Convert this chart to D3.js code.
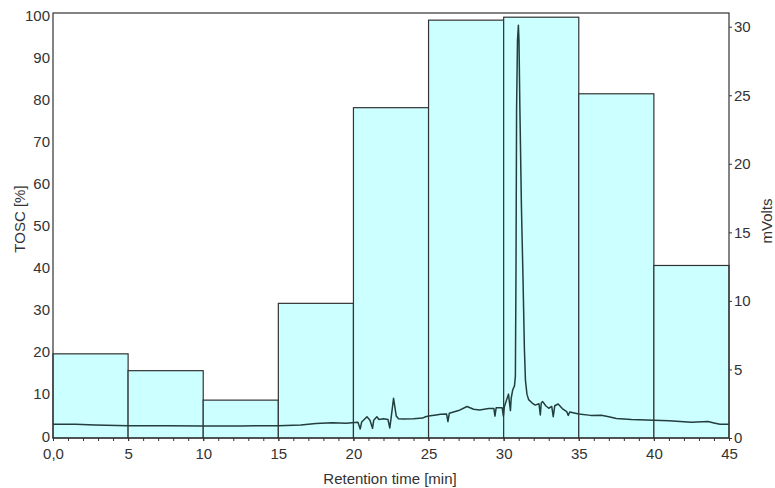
<!DOCTYPE html>
<html>
<head>
<meta charset="utf-8">
<script src="https://cdn.jsdelivr.net/npm/d3@7"></script>
<style>
  body { margin: 0; background: #fff; }
  svg { display: block; font-family: Arial, "Liberation Sans", sans-serif; }
  .axis text { fill: #333; font-size: 15px; }
  .axis path, .axis line { stroke: #333; }
</style>
</head>
<body>
<svg id="chart" width="775" height="488"></svg>
<script>
// TOSC fractions (5 min bins)
const binEdges = [0, 5, 10, 15, 20, 25, 30, 35, 40, 45];
const toscValues = [20, 16, 9, 32, 78.5, 99.3, 100, 81.8, 41];

// chromatogram trace
const timeMin = [0, 1.5, 2.8, 5, 7.5, 10, 12.5, 15, 16.5, 17.5, 18.6, 19.5,
  20.3, 20.45, 20.55, 20.9, 21.1, 21.27, 21.35, 21.56, 21.7, 22.0, 22.3, 22.42, 22.5,
  22.67, 22.85, 23.0, 23.3, 24.0, 24.6, 24.8, 25.0, 25.5, 25.8, 26.2, 26.29, 26.38,
  27.0, 27.56, 28.0, 28.4, 29.0, 29.35, 29.42, 29.5, 29.9, 29.98, 30.05, 30.32, 30.45,
  30.5, 30.6, 30.72, 30.78, 30.82, 30.86, 30.92, 30.98, 31.02, 31.08, 31.18, 31.29,
  31.38, 31.45, 31.55, 31.66, 31.9, 32.1, 32.35, 32.44, 32.5, 32.6, 32.8, 33.0, 33.2,
  33.3, 33.4, 33.63, 33.9, 34.2, 34.3, 34.4, 35.0, 35.8, 36.5, 37.0, 37.5, 38.5, 40.0,
  41.0, 42.5, 43.2, 43.6, 44.0, 44.4, 45.0];
const mVolts = [1.0, 1.0, 0.95, 0.9, 0.9, 0.88, 0.88, 0.9, 0.95, 1.05, 1.12, 1.08,
  1.15, 0.66, 1.17, 1.55, 1.3, 0.71, 1.3, 1.55, 1.35, 1.4, 1.35, 0.73, 1.4,
  2.9, 1.6, 1.4, 1.38, 1.4, 1.45, 1.55, 1.6, 1.68, 1.73, 1.75, 1.2, 1.8,
  2.0, 2.3, 2.1, 2.05, 2.15, 2.15, 1.6, 2.2, 2.2, 1.6, 2.3, 3.2, 2.0,
  2.9, 3.5, 3.8, 4.5, 12, 24, 29, 30.1, 29, 24, 17, 11.5,
  6.5, 4.2, 3.2, 2.8, 2.55, 2.4, 2.5, 1.68, 2.55, 2.65, 2.35, 2.17, 2.3,
  1.55, 2.35, 2.48, 2.15, 1.92, 1.65, 1.9, 1.75, 1.65, 1.66, 1.55, 1.42, 1.35, 1.3,
  1.25, 1.15, 1.18, 1.2, 1.1, 1.0, 1.0];

const xTicks = [0, 5, 10, 15, 20, 25, 30, 35, 40, 45];
const leftTicks = [0, 10, 20, 30, 40, 50, 60, 70, 80, 90, 100];
const rightTicks = [0, 5, 10, 15, 20, 25, 30];

var svg = d3.select("#chart"),
  margin = {top: 13, right: 46, bottom: 50, left: 53},
  width = +svg.attr("width") - margin.left - margin.right,
  height = +svg.attr("height") - margin.top - margin.bottom;

var x = d3.scaleLinear().domain([0, 45]).range([0, width]);
var yL = d3.scaleLinear().domain([0, 101]).range([height, 0]);
var yR = d3.scaleLinear().domain([0, 31]).range([height, 0]);

var g = svg.append("g")
  .attr("transform", "translate(" + margin.left + "," + margin.top + ")");

// bars
g.selectAll(".bar")
  .data(toscValues)
  .enter().append("rect")
  .attr("class", "bar")
  .attr("x", (d, i) => x(binEdges[i]))
  .attr("y", d => yL(d))
  .attr("width", (d, i) => x(binEdges[i + 1]) - x(binEdges[i]))
  .attr("height", d => height - yL(d))
  .attr("fill", "#ccffff")
  .attr("stroke", "#333")
  .attr("stroke-width", 1.2);

// chromatogram
var line = d3.line()
  .x(i => x(timeMin[i]))
  .y(i => yR(mVolts[i]));

g.append("path")
  .datum(d3.range(timeMin.length))
  .attr("d", line)
  .attr("fill", "none")
  .attr("stroke", "#243d3d")
  .attr("stroke-width", 1.5)
  .attr("stroke-linejoin", "round");

// frame
g.append("rect")
  .attr("width", width)
  .attr("height", height)
  .attr("fill", "none")
  .attr("stroke", "#333")
  .attr("stroke-width", 1.2);

// x axis with minor ticks
g.append("g")
  .attr("class", "axis axis--x")
  .attr("transform", "translate(0," + height + ")")
  .call(d3.axisBottom(x).tickValues(d3.range(0, 46, 1)).tickSize(3).tickFormat(""))
  .call(a => a.select(".domain").remove());

g.append("g")
  .attr("class", "axis axis--x")
  .attr("transform", "translate(0," + height + ")")
  .call(d3.axisBottom(x).tickValues(xTicks).tickSize(3).tickPadding(7)
    .tickFormat(d => d === 0 ? "0,0" : d))
  .call(a => a.select(".domain").remove());

// left axis
g.append("g")
  .attr("class", "axis axis--y")
  .call(d3.axisLeft(yL).tickValues(leftTicks).tickSize(0).tickPadding(3))
  .call(a => a.select(".domain").remove())
  .call(a => a.selectAll(".tick text").attr("dy", "0.2em"));

// right axis
g.append("g")
  .attr("class", "axis axis--y2")
  .attr("transform", "translate(" + width + ",0)")
  .call(d3.axisRight(yR).tickValues(rightTicks).tickSize(3).tickPadding(2))
  .call(a => a.select(".domain").remove());

// titles
svg.append("text")
  .attr("x", 390)
  .attr("y", 484)
  .attr("text-anchor", "middle")
  .attr("fill", "#333")
  .style("font-size", "15px")
  .text("Retention time [min]");

svg.append("text")
  .attr("transform", "translate(25,219) rotate(-90)")
  .attr("text-anchor", "middle")
  .attr("fill", "#333")
  .style("font-size", "15px")
  .text("TOSC [%]");

svg.append("text")
  .attr("transform", "translate(772,221) rotate(-90)")
  .attr("text-anchor", "middle")
  .attr("fill", "#333")
  .style("font-size", "15px")
  .text("mVolts");
</script>
</body>
</html>
